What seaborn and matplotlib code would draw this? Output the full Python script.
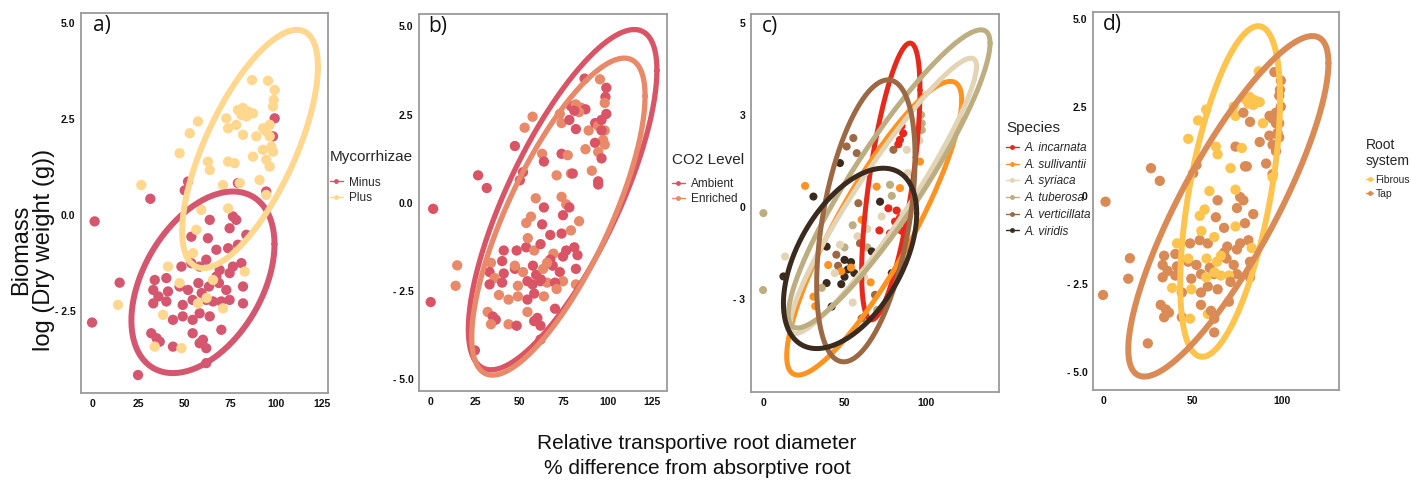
import numpy as np
import pandas as pd
import seaborn as sns
import matplotlib.pyplot as plt
from matplotlib.lines import Line2D

sns.set_style("white")
plt.rcParams['font.family'] = ['Liberation Sans', 'DejaVu Sans']

# --- shared data for panels a, b, d (relative diameter %, log dry weight) ---
plus_x = [87, 95.7, 99.3, 98.8, 98.4, 79.3, 82, 84.8, 87.5, 83.9,
          81.2, 73, 74, 78.4, 82.1, 89.3, 93, 94.7, 96.6, 97.5,
          98.4, 92.9, 94.7, 96.6, 87.5, 96.6, 57.6, 53.1, 47.6, 63,
          64, 74, 77.5, 71.2, 80.3, 91.1, 94.7, 74, 59.4, 26.8,
          14.1, 38.6, 48.6, 34.1, 56.7, 41.3, 47.6, 57.6, 65.8, 71.2,
          83, 54.9, 62.3]
plus_y = [3.52, 3.5, 3.26, 3.0, 2.83, 2.74, 2.79, 2.7, 2.65, 2.57,
          2.61, 2.52, 2.26, 2.35, 2.09, 2.05, 2.26, 2.18, 2.05, 1.78,
          1.65, 1.7, 1.44, 1.26, 1.52, 2.35, 2.44, 2.13, 1.61, 1.39,
          1.17, 1.39, 1.35, 0.78, 0.83, 0.91, 0.52, 0.17, 0.13, 0.78,
          -2.35, -2.61, -3.48, -3.44, -0.39, -1.35, -1.78, -2.31, -1.7, -2.44,
          -1.48, -1.0, -2.17]
plus_root = ['F', 'T', 'T', 'T', 'T', 'F', 'F', 'F', 'F', 'F',
             'F', 'F', 'F', 'T', 'T', 'F', 'T', 'T', 'T', 'T',
             'T', 'T', 'T', 'T', 'T', 'T', 'F', 'F', 'F', 'F',
             'F', 'T', 'F', 'F', 'T', 'T', 'F', 'F', 'F', 'T',
             'T', 'F', 'F', 'T', 'F', 'F', 'F', 'F', 'F', 'T',
             'F', 'F', 'F']
plus_co2 = ['A', 'E', 'A', 'A', 'E', 'A', 'E', 'E', 'A', 'E',
            'A', 'E', 'E', 'A', 'A', 'E', 'A', 'E', 'A', 'E',
            'E', 'A', 'E', 'A', 'E', 'A', 'E', 'E', 'A', 'E',
            'A', 'A', 'E', 'E', 'A', 'E', 'A', 'E', 'E', 'A',
            'E', 'E', 'A', 'E', 'E', 'A', 'E', 'A', 'E', 'E',
            'A', 'E', 'A']

minus_x = [1.4, 0, 15, 25, 31.7, 50.4, 79.3, 94.7, 99.3, 98.4,
           52.2, 64, 76.6, 78.4, 74.8, 54, 63, 83.9, 67.6, 74,
           79.3, 48.6, 54, 58.5, 62.1, 69.4, 76.6, 81.2, 34.1, 40.4,
           33.3, 36.1, 41.3, 47.6, 52.2, 57.8, 59.6, 63.6, 69, 73,
           74.8, 82.1, 82.1, 33.3, 40.4, 49.3, 54.7, 62.1, 65.8, 70.3,
           49.3, 54.7, 58.5, 64, 70.3, 32.2, 35.1, 36.8, 44, 58.5,
           62.1, 60.3, 54.7, 62.1, 44, 74.8, 67.6]
minus_y = [-0.17, -2.81, -1.77, -4.18, 0.42, 0.64, 0.83, 0.61, 2.52, 2.05,
           0.87, -0.13, -0.04, -0.13, -0.35, -0.57, -0.61, -0.52, -0.91, -0.87,
           -0.78, -1.35, -1.26, -1.35, -1.17, -1.44, -1.35, -1.26, -1.7, -1.65,
           -1.96, -2.13, -2.0, -1.87, -1.96, -1.78, -2.04, -1.87, -1.78, -1.96,
           -2.22, -1.87, -2.31, -2.31, -2.26, -2.35, -2.22, -2.22, -2.26, -2.26,
           -2.65, -2.74, -2.57, -2.65, -3.0, -3.09, -3.22, -3.31, -3.44, -3.35,
           -3.48, -3.26, -3.09, -3.87, -2.74, -1.52, -1.61]
minus_root = ['T', 'T', 'T', 'T', 'T', 'T', 'T', 'T', 'T', 'T',
              'T', 'T', 'T', 'T', 'T', 'F', 'T', 'T', 'T', 'F',
              'T', 'T', 'T', 'T', 'F', 'T', 'T', 'T', 'T', 'T',
              'T', 'T', 'T', 'T', 'T', 'F', 'T', 'F', 'T', 'T',
              'T', 'T', 'T', 'T', 'T', 'T', 'T', 'T', 'F', 'F',
              'F', 'T', 'T', 'T', 'T', 'T', 'T', 'T', 'T', 'F',
              'T', 'T', 'T', 'T', 'T', 'T', 'T']
minus_co2 = ['A', 'A', 'E', 'A', 'A', 'A', 'E', 'A', 'A', 'E',
             'A', 'A', 'E', 'A', 'A', 'E', 'A', 'E', 'A', 'A',
             'E', 'A', 'A', 'E', 'A', 'E', 'A', 'A', 'E', 'A',
             'A', 'E', 'A', 'A', 'E', 'A', 'A', 'E', 'A', 'A',
             'E', 'A', 'E', 'A', 'A', 'E', 'A', 'A', 'E', 'A',
             'E', 'A', 'A', 'E', 'A', 'E', 'A', 'A', 'E', 'A',
             'A', 'A', 'E', 'A', 'E', 'A', 'A']

# --- panel c data (species) ---
sp_x = [0.2, 0, 13.5, 12.5, 25.8, 30.9, 47.2, 55.4, 51.3, 57.5,
        80, 84, 86, 85, 83, 88.2, 96.3, 97.4, 97.4, 97,
        96, 88.8, 69.7, 77.9, 84, 79, 71.8, 76.9, 82, 84,
        81, 71.4, 77.9, 85, 58.5, 55, 60.5, 58, 72.8, 59.5,
        64, 50, 47.2, 39, 66.7, 50, 54, 46, 52, 56,
        50, 48, 54, 40, 39, 48, 44, 62, 66, 68.7,
        79, 30.9, 32, 42.1, 60.5, 55, 70, 36, 45, 64]
sp_y = [-0.17, -2.26, -1.35, -1.89, 0.57, 0.28, 1.19, 1.87, 1.64, 1.46,
        1.55, 1.82, 2.0, 2.2, 1.7, 1.55, 1.23, 2.27, 2.09, 2.5,
        1.8, 0.92, 0.55, 0.6, 0.51, 0.3, 0.14, -0.04, -0.1, -0.3,
        -0.4, -0.64, -0.72, -0.65, 0.1, -0.5, -0.35, -0.8, -0.26, -0.99,
        -1.1, -1.1, -1.03, -1.08, -1.21, -1.44, -1.5, -1.6, -1.7, -1.8,
        -1.9, -1.75, -1.65, -1.58, -2.07, -2.1, -1.8, -1.9, -2.05, -2.39,
        -1.8, -2.44, -2.7, -2.71, -3.03, -2.6, -2.8, -2.2, -1.3, -0.6]
sp_code = ['T', 'T', 'Y', 'D', 'S', 'D', 'D', 'V', 'V', 'V',
           'V', 'I', 'I', 'I', 'I', 'Y', 'S', 'T', 'T', 'T',
           'Y', 'Y', 'S', 'T', 'S', 'T', 'D', 'I', 'I', 'I',
           'I', 'I', 'I', 'I', 'V', 'T', 'S', 'Y', 'Y', 'V',
           'T', 'T', 'Y', 'D', 'D', 'D', 'D', 'V', 'D', 'D',
           'D', 'S', 'S', 'S', 'D', 'D', 'Y', 'Y', 'S', 'V',
           'D', 'S', 'S', 'D', 'V', 'Y', 'T', 'T', 'V', 'Y']

species = ['A. incarnata', 'A. sullivantii', 'A. syriaca',
           'A. tuberosa', 'A. verticillata', 'A. viridis']
sp_names = {'I': 'A. incarnata', 'S': 'A. sullivantii', 'Y': 'A. syriaca',
            'T': 'A. tuberosa', 'V': 'A. verticillata', 'D': 'A. viridis'}

# ellipse parameters: centre, half-ranges, correlation
a_groups = ['Minus', 'Plus']
a_cx, a_cy = [60.3, 85.9], [-1.76, 1.72]
a_rx, a_ry, a_r = [38.9, 36.9], [2.37, 3.11], [0.42, 0.69]

b_groups = ['Ambient', 'Enriched']
b_cx, b_cy = [74.6, 72.2], [0.09, -0.39]
b_rx, b_ry, b_r = [53.3, 49.0], [4.82, 4.49], [0.76, 0.76]

c_cx = [78.4, 68.2, 73.8, 77.4, 63.1, 53.4]
c_cy = [0.69, -0.58, 0.30, 0.76, -0.38, -1.40]
c_rx = [17.9, 53.7, 57.2, 61.9, 30.2, 40.9]
c_ry = [3.76, 3.99, 3.74, 4.05, 3.83, 2.45]
c_r = [0.66, 0.87, 0.94, 0.91, 0.45, 0.50]

d_groups = ['Fibrous', 'Tap']
d_cx, d_cy = [71.0, 70.0], [0.12, -0.30]
d_rx, d_ry, d_r = [27.9, 55.9], [4.68, 4.82], [0.56, 0.84]

pal_a = {'Minus': '#D4566F', 'Plus': '#FFD78F'}
pal_b = {'Ambient': '#D95566', 'Enriched': '#E8896A'}
pal_c = {'A. incarnata': '#E8281A', 'A. sullivantii': '#FF9322',
         'A. syriaca': '#E2D4B5', 'A. tuberosa': '#BDAE82',
         'A. verticillata': '#9C6944', 'A. viridis': '#3B2B1F'}
pal_d = {'Fibrous': '#FFC44D', 'Tap': '#D98A55'}

co2_names = {'A': 'Ambient', 'E': 'Enriched'}
root_names = {'F': 'Fibrous', 'T': 'Tap'}

df = pd.DataFrame({
    'diam': minus_x + plus_x,
    'logw': minus_y + plus_y,
    'Mycorrhizae': ['Minus'] * len(minus_x) + ['Plus'] * len(plus_x),
    'CO2': [co2_names[c] for c in minus_co2 + plus_co2],
    'Root': [root_names[c] for c in minus_root + plus_root],
})
df_c = pd.DataFrame({'diam': sp_x, 'logw': sp_y,
                     'Species': [sp_names[c] for c in sp_code]})


def ellipse(ax, cx, cy, rx, ry, r, color, lw):
    t = np.linspace(0, 2 * np.pi, 300)
    phi = np.arccos(r)
    ax.plot(cx + rx * np.cos(t), cy + ry * np.cos(t - phi), color=color, lw=lw,
            solid_capstyle='round')


fig = plt.figure(figsize=(14.11, 4.86), dpi=100)
W, H = 1411, 486


def make_ax(l, r, t, b):
    return fig.add_axes([l / W, 1 - b / H, (r - l) / W, (b - t) / H])


ax_a = make_ax(81, 328, 13, 393)
ax_b = make_ax(419, 667, 14, 391)
ax_c = make_ax(751, 999, 14, 392)
ax_d = make_ax(1093, 1339, 12, 390)

# a) mycorrhizae
sns.scatterplot(data=df, x='diam', y='logw', hue='Mycorrhizae', palette=pal_a,
                s=55, edgecolor='none', legend=False, ax=ax_a)
for i, g in enumerate(a_groups):
    ellipse(ax_a, a_cx[i], a_cy[i], a_rx[i], a_ry[i], a_r[i], pal_a[g], 4.3)

# b) CO2
sns.scatterplot(data=df, x='diam', y='logw', hue='CO2', palette=pal_b,
                s=55, edgecolor='none', legend=False, ax=ax_b)
for i, g in enumerate(b_groups):
    ellipse(ax_b, b_cx[i], b_cy[i], b_rx[i], b_ry[i], b_r[i], pal_b[g], 3.8)

# c) species
sns.scatterplot(data=df_c, x='diam', y='logw', hue='Species', palette=pal_c,
                s=34, edgecolor='none', legend=False, ax=ax_c)
for i, g in enumerate(species):
    ellipse(ax_c, c_cx[i], c_cy[i], c_rx[i], c_ry[i], c_r[i], pal_c[g], 3.6)

# d) root system
sns.scatterplot(data=df, x='diam', y='logw', hue='Root', palette=pal_d,
                s=55, edgecolor='none', legend=False, ax=ax_d)
for i, g in enumerate(d_groups):
    ellipse(ax_d, d_cx[i], d_cy[i], d_rx[i], d_ry[i], d_r[i], pal_d[g], 4.3)

# axes cosmetics
setup = [
    (ax_a, (-6, 128.3), (-4.65, 5.27), [0, 25, 50, 75, 100, 125],
     [5, 2.5, 0, -2.5], ['5.0', '2.5', '0.0', '- 2.5'], 'a)', 0.049),
    (ax_b, (-6.6, 133.6), (-5.33, 5.35), [0, 25, 50, 75, 100, 125],
     [5, 2.5, 0, -2.5, -5], ['5.0', '2.5', '0.0', '- 2.5', '- 5.0'], 'b)', 0.036),
    (ax_c, (-7.4, 144.8), (-5.03, 5.24), [0, 50, 100],
     [5, 2.5, 0, -2.5], ['5', '3', '0', '- 3'], 'c)', 0.044),
    (ax_d, (-5.6, 131.8), (-5.5, 5.2), [0, 50, 100],
     [5, 2.5, 0, -2.5, -5], ['5.0', '2.5', '0', '- 2.5', '- 5.0'], 'd)', 0.04),
]
for ax, xl, yl, xt, yt, ytl, lab, lx in setup:
    ax.set_xlim(*xl)
    ax.set_ylim(*yl)
    ax.set_xticks(xt)
    ax.set_xticklabels([str(v) for v in xt])
    ax.set_yticks(yt)
    ax.set_yticklabels(ytl)
    ax.set_xlabel('')
    ax.set_ylabel('')
    ax.tick_params(length=2, width=0.8, color='#666666', labelsize=7.5, pad=2,
                   labelcolor='#111111')
    for t in ax.get_xticklabels() + ax.get_yticklabels():
        t.set_fontweight('bold')
    for sp in ax.spines.values():
        sp.set_color('#9a9a9a')
        sp.set_linewidth(1.3)
    ax.text(lx, 0.995, lab, transform=ax.transAxes, ha='left', va='top',
            fontsize=15, family=['Open Sans', 'DejaVu Sans'], color='#111111')


def add_legend(ax, groups, pal, title, x, y, italic=False, size=8.5,
               tsize=11, hlen=1.1, hpad=0.5, gap=8, lspace=0.45):
    handles = [Line2D([0], [0], color=pal[g], marker='o', markersize=2.5, lw=1)
               for g in groups]
    leg = ax.legend(handles, groups, title=title, loc='upper left',
                    bbox_to_anchor=(x / W, 1 - y / H), bbox_transform=fig.transFigure,
                    frameon=False, handlelength=hlen, handletextpad=hpad,
                    labelspacing=lspace, borderpad=0, borderaxespad=0,
                    prop={'size': size, 'style': 'italic' if italic else 'normal'},
                    title_fontproperties={'size': tsize}, alignment='left')
    leg._legend_box.sep = gap
    leg.set_zorder(10)


add_legend(ax_a, a_groups, pal_a, 'Mycorrhizae', 330, 150, gap=9, lspace=0.3)
add_legend(ax_b, b_groups, pal_b, 'CO2 Level', 672, 153, gap=8, lspace=0.25)
add_legend(ax_c, species, pal_c, 'Species', 1006, 121, italic=True, size=8.5,
           gap=5, lspace=0.4)
add_legend(ax_d, d_groups, pal_d, 'Root\nsystem', 1366, 138, size=7.5,
           tsize=10, hlen=0.7, hpad=0.2, gap=5, lspace=0.35)

fig.text(33 / W, 1 - 250 / H, 'Biomass\nlog (Dry weight (g))', rotation=90,
         ha='center', va='center', fontsize=17, linespacing=1.05, color='#111111')
fig.text(697 / W, 1 - 456 / H,
         'Relative transportive root diameter\n% difference from absorptive root',
         ha='center', va='center', fontsize=15, linespacing=1.35, color='#111111')

fig.savefig('out.png', dpi=100)
